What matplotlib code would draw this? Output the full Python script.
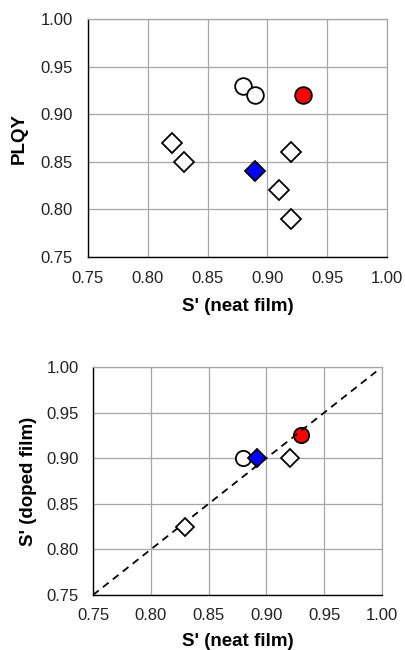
import matplotlib
matplotlib.use("Agg")
import matplotlib.pyplot as plt

plt.rcParams['font.family'] = ['Liberation Sans', 'DejaVu Sans']

# Top panel: PLQY vs S' (neat film)
top_open_circle_x = [0.88, 0.89]
top_open_circle_y = [0.93, 0.92]
top_red_circle_x = [0.93]
top_red_circle_y = [0.92]
top_open_diamond_x = [0.82, 0.83, 0.92, 0.91, 0.92]
top_open_diamond_y = [0.87, 0.85, 0.86, 0.82, 0.79]
top_blue_diamond_x = [0.89]
top_blue_diamond_y = [0.84]

# Bottom panel: S' (doped film) vs S' (neat film)
bot_open_circle_x = [0.88]
bot_open_circle_y = [0.90]
bot_red_circle_x = [0.93]
bot_red_circle_y = [0.925]
bot_open_diamond_x = [0.92, 0.83]
bot_open_diamond_y = [0.90, 0.825]
bot_blue_diamond_x = [0.892]
bot_blue_diamond_y = [0.90]
identity_line = [0.75, 0.995]

ticks = [0.75, 0.80, 0.85, 0.90, 0.95, 1.00]
tick_labels = ["0.75", "0.80", "0.85", "0.90", "0.95", "1.00"]

fig = plt.figure(figsize=(4.06, 6.5), dpi=100)
W, H = 406, 650
ax1 = fig.add_axes([88 / W, 1 - 257 / H, (387 - 88) / W, (257 - 19) / H])
ax2 = fig.add_axes([93 / W, 1 - 595 / H, (382 - 93) / W, (595 - 367) / H])

grid_col = '#a6a6a6'

def style(ax, ylabel, xpad, ypad, xl, yl):
    ax.set_xlim(0.75, 1.0)
    ax.set_ylim(0.75, 1.0)
    ax.set_xticks(ticks)
    ax.set_xticklabels(tick_labels)
    ax.set_yticks(ticks)
    ax.set_yticklabels(tick_labels)
    ax.grid(True, color=grid_col, linewidth=0.9)
    ax.set_axisbelow(True)
    ax.tick_params(axis='x', length=0, labelsize=12, colors='#222222', pad=xpad)
    ax.tick_params(axis='y', length=0, labelsize=12, colors='#222222', pad=ypad)
    for s in ['left', 'bottom']:
        ax.spines[s].set_color('black')
        ax.spines[s].set_linewidth(1.0)
    for s in ['top', 'right']:
        ax.spines[s].set_color(grid_col)
        ax.spines[s].set_linewidth(0.9)
    ax.set_xlabel("S' (neat film)", fontsize=13.5, fontweight='bold')
    ax.set_ylabel(ylabel, fontsize=13.5, fontweight='bold')
    ax.xaxis.set_label_coords(0.5, xl)
    ax.yaxis.set_label_coords(yl, 0.5)

mew = 1.3

ax1.plot(top_open_diamond_x, top_open_diamond_y, 'D', ms=10, mfc='white', mec='black', mew=mew, ls='none')
ax1.plot(top_blue_diamond_x, top_blue_diamond_y, 'D', ms=10, mfc='#0000ff', mec='black', mew=mew, ls='none')
ax1.plot(top_open_circle_x, top_open_circle_y, 'o', ms=12, mfc='white', mec='black', mew=mew, ls='none')
ax1.plot(top_red_circle_x, top_red_circle_y, 'o', ms=12, mfc='#ff0000', mec='black', mew=mew, ls='none')
style(ax1, 'PLQY', 10, 11, -0.172, -0.20)

ax2.plot(identity_line, identity_line, '--', color='black', lw=1.3, dashes=(4, 3), zorder=1)
ax2.plot(bot_open_diamond_x, bot_open_diamond_y, 'D', ms=9.5, mfc='white', mec='black', mew=mew, ls='none', zorder=2)
ax2.plot(bot_open_circle_x, bot_open_circle_y, 'o', ms=11, mfc='white', mec='black', mew=mew, ls='none', zorder=2)
ax2.plot(bot_blue_diamond_x, bot_blue_diamond_y, 'D', ms=9.5, mfc='#0000ff', mec='black', mew=mew, ls='none', zorder=2)
ax2.plot(bot_red_circle_x, bot_red_circle_y, 'o', ms=11, mfc='#ff0000', mec='black', mew=mew, ls='none', zorder=0.5)
style(ax2, "S' (doped film)", 9.5, 10, -0.167, -0.194)

fig.savefig('out.png', dpi=100)
